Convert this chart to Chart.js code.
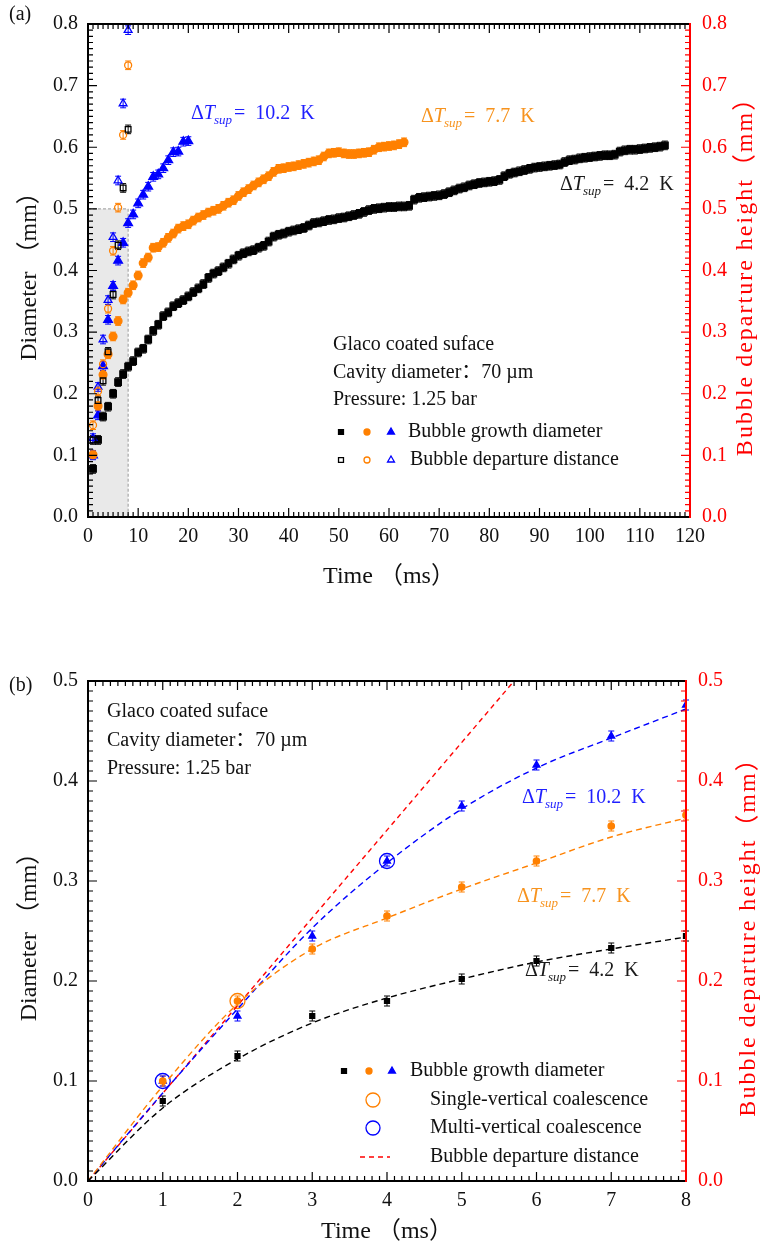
<!DOCTYPE html>
<html>
<head>
<meta charset="utf-8">
<script src="https://cdn.jsdelivr.net/npm/chart.js@4.4.1/dist/chart.umd.min.js"></script>
<style>
    html, body { margin: 0; padding: 0; background: #fff; }
    #wrap { position: relative; width: 766px; height: 1250px; }
    #cA { position: absolute; left: 0; top: 0; }
    #cB { position: absolute; left: 0; top: 600px; }
</style>
</head>
<body>
<div id="wrap">
    <canvas id="cA" width="766" height="600"></canvas>
    <canvas id="cB" width="766" height="650"></canvas>
</div>
<script>
    "use strict";

    /* ---------------- Data ---------------- */
    // (a) bubble growth diameter, one frame per ms starting at t = 1 ms
    const diamA42 = [0.078, 0.125, 0.163, 0.179, 0.200, 0.219, 0.232, 0.244, 0.253, 0.267,
        0.273, 0.288, 0.302, 0.312, 0.326, 0.332, 0.342, 0.347, 0.352, 0.358,
        0.365, 0.371, 0.378, 0.388, 0.395, 0.399, 0.405, 0.411, 0.418, 0.424,
        0.428, 0.431, 0.433, 0.437, 0.440, 0.447, 0.455, 0.458, 0.460, 0.463,
        0.465, 0.467, 0.469, 0.473, 0.477, 0.478, 0.480, 0.482, 0.483, 0.485,
        0.486, 0.488, 0.490, 0.492, 0.495, 0.498, 0.500, 0.501, 0.502, 0.503,
        0.503, 0.504, 0.504, 0.505, 0.515, 0.518, 0.519, 0.520, 0.521, 0.522,
        0.524, 0.527, 0.530, 0.533, 0.535, 0.538, 0.540, 0.542, 0.543, 0.544,
        0.545, 0.547, 0.553, 0.557, 0.559, 0.561, 0.563, 0.565, 0.567, 0.568,
        0.569, 0.570, 0.571, 0.572, 0.576, 0.579, 0.580, 0.582, 0.583, 0.584,
        0.585, 0.586, 0.587, 0.587, 0.588, 0.593, 0.595, 0.596, 0.596, 0.597,
        0.598, 0.599, 0.600, 0.601, 0.603];
    const diamA77 = [0.101, 0.180, 0.231, 0.264, 0.293, 0.318, 0.353, 0.364, 0.376, 0.392,
        0.412, 0.421, 0.437, 0.438, 0.445, 0.453, 0.460, 0.468, 0.472, 0.475,
        0.481, 0.486, 0.490, 0.494, 0.497, 0.500, 0.505, 0.510, 0.514, 0.521,
        0.527, 0.532, 0.538, 0.543, 0.548, 0.553, 0.560, 0.565, 0.566, 0.568,
        0.569, 0.571, 0.573, 0.575, 0.577, 0.579, 0.585, 0.590, 0.591, 0.592,
        0.590, 0.589, 0.589, 0.590, 0.591, 0.592, 0.596, 0.600, 0.601, 0.602,
        0.603, 0.605, 0.608];
    const diamA102 = [0.100, 0.165, 0.245, 0.320, 0.375, 0.416, 0.445, 0.477, 0.491, 0.509,
        0.523, 0.536, 0.552, 0.556, 0.566, 0.579, 0.592, 0.593, 0.609, 0.610];

    // (a) bubble departure distance
    const timeDep = [1, 2, 3, 4, 5, 6, 7, 8];
    const depA42 = [0.125, 0.189, 0.221, 0.268, 0.361, 0.441, 0.534, 0.629];
    const depA77 = [0.149, 0.204, 0.248, 0.338, 0.432, 0.502, 0.620, 0.733];
    const depA102 = [0.128, 0.211, 0.288, 0.352, 0.454, 0.546, 0.671, 0.790];

    // (b) first 8 ms
    const timeB = [1, 2, 3, 4, 5, 6, 7, 8];
    const diamB42 = [0.080, 0.125, 0.165, 0.180, 0.202, 0.220, 0.233, 0.245];
    const diamB77 = [0.100, 0.180, 0.232, 0.265, 0.294, 0.320, 0.355, 0.366];
    const diamB102 = [0.100, 0.165, 0.245, 0.320, 0.375, 0.416, 0.445, 0.476];

    // (b) dashed trend curves
    const fitT = [0, 1, 2, 3, 4, 5, 6, 7, 8];
    const fit42 = [0, 0.073, 0.122, 0.158, 0.183, 0.202, 0.219, 0.232, 0.244];
    const fit77 = [0, 0.095, 0.177, 0.232, 0.263, 0.292, 0.318, 0.344, 0.363];
    const fit102 = [0, 0.088, 0.172, 0.253, 0.318, 0.372, 0.413, 0.443, 0.472];
    const depLineT = [0, 5.7];
    const depLineD = [0, 0.5];

    // (b) coalescence events
    const singleT = [2];
    const singleD = [0.18];
    const multiT = [1, 4];
    const multiD = [0.10, 0.32];

    const superheat = ["4.2", "7.7", "10.2"];
    const shadeT = [0, 8];
    const shadeD = [0, 0.5];

    /* ---------------- Styles ---------------- */
    const SERIF = '"Liberation Serif", "Noto Sans CJK SC", serif';
    const C = { k: "#000000", o: "#ff8000", b: "#0000ff", r: "#ff0000" };
    const TXT = { k: "#1a1a1a", o: "#f7931e", b: "#1f1fff" };

    function pts(xs, ys) { return xs.map((x, i) => ({ x: x, y: ys[i] })); }
    function frames(vals) { return vals.map((v, i) => i + 1); } // 1 ms frame spacing

    function font(size, style) { return (style ? style + " " : "") + size + "px " + SERIF; }

    function drawDelta(ctx, x, y, color, val) {
        ctx.save();
        ctx.fillStyle = color;
        ctx.textBaseline = "alphabetic";
        ctx.textAlign = "left";
        ctx.font = font(20);
        ctx.fillText("Δ", x, y); x += ctx.measureText("Δ").width;
        ctx.font = font(20, "italic");
        ctx.fillText("T", x, y); x += ctx.measureText("T").width;
        ctx.font = font(13, "italic");
        ctx.fillText("sup", x - 1, y + 5); x += ctx.measureText("sup").width;
        ctx.font = font(20);
        ctx.fillText("=  " + val + "  K", x + 1, y);
        ctx.restore();
    }

    function marker(ctx, style, r, x, y, color, filled) {
        ctx.save();
        ctx.strokeStyle = color;
        ctx.fillStyle = filled ? color : "rgba(0,0,0,0)";
        ctx.lineWidth = 1.3;
        Chart.helpers.drawPoint(ctx, { pointStyle: style, radius: r, rotation: 0, borderWidth: 1.3 }, x, y);
        ctx.restore();
    }

    function text(ctx, s, x, y, color, align) {
        ctx.save();
        ctx.font = font(20);
        ctx.fillStyle = color || "#111";
        ctx.textAlign = align || "left";
        ctx.textBaseline = "middle";
        ctx.fillText(s, x, y);
        ctx.restore();
    }

    /* ---------------- Plugins ---------------- */
    const shade = {
        id: "shade",
        beforeDatasetsDraw(chart, args, o) {
            if (!o.on) return;
            const { ctx } = chart;
            const xs = chart.scales.x, ys = chart.scales.y;
            const x0 = xs.getPixelForValue(shadeT[0]), x1 = xs.getPixelForValue(shadeT[1]);
            const y0 = ys.getPixelForValue(shadeD[0]), y1 = ys.getPixelForValue(shadeD[1]);
            ctx.save();
            ctx.fillStyle = "#e9e9e9";
            ctx.fillRect(x0, y1, x1 - x0, y0 - y1);
            ctx.strokeStyle = "#9a9a9a";
            ctx.lineWidth = 1;
            ctx.setLineDash([3, 2]);
            ctx.beginPath();
            ctx.moveTo(x0, y1); ctx.lineTo(x1, y1); ctx.lineTo(x1, y0);
            ctx.stroke();
            ctx.restore();
        }
    };

    const errBars = {
        id: "errBars",
        beforeDatasetsDraw(chart) {
            const ctx = chart.ctx, ys = chart.scales.y;
            chart.data.datasets.forEach((ds, i) => {
                if (!ds.err) return;
                const meta = chart.getDatasetMeta(i);
                ctx.save();
                ctx.strokeStyle = ds.borderColor;
                ctx.lineWidth = 1;
                meta.data.forEach((pt, j) => {
                    const v = ds.data[j].y;
                    const t = ys.getPixelForValue(v + ds.err), b = ys.getPixelForValue(v - ds.err);
                    ctx.beginPath();
                    ctx.moveTo(pt.x, t); ctx.lineTo(pt.x, b);
                    ctx.moveTo(pt.x - 3, t); ctx.lineTo(pt.x + 3, t);
                    ctx.moveTo(pt.x - 3, b); ctx.lineTo(pt.x + 3, b);
                    ctx.stroke();
                });
                ctx.restore();
            });
        }
    };

    // Origin-style box: inward major/minor ticks, red right axis
    const frame = {
        id: "frame",
        afterDatasetsDraw(chart, args, o) {
            const { ctx, chartArea: a } = chart;
            const xs = chart.scales.x, ys = chart.scales.y;
            const each = (scale, minor, major, fn) => {
                const n = Math.round((scale.max - scale.min) / minor);
                const every = Math.round(major / minor);
                for (let i = 0; i <= n; i++) fn(scale.getPixelForValue(scale.min + i * minor), i % every === 0);
            };
            ctx.save();
            ctx.lineWidth = 1.2;
            ctx.strokeStyle = "#000";
            ctx.beginPath();
            each(xs, o.xMinor, o.xMajor, (p, big) => {
                const L = big ? 9 : 5;
                ctx.moveTo(p, a.bottom); ctx.lineTo(p, a.bottom - L);
                ctx.moveTo(p, a.top); ctx.lineTo(p, a.top + L);
            });
            each(ys, o.yMinor, o.yMajor, (p, big) => {
                ctx.moveTo(a.left, p); ctx.lineTo(a.left + (big ? 9 : 5), p);
            });
            ctx.stroke();
            ctx.strokeStyle = C.r;
            ctx.beginPath();
            each(ys, o.yMinor, o.yMajor, (p, big) => {
                ctx.moveTo(a.right, p); ctx.lineTo(a.right - (big ? 9 : 5), p);
            });
            ctx.stroke();

            ctx.lineWidth = 2;
            ctx.strokeStyle = "#000";
            ctx.beginPath();
            ctx.moveTo(a.right, a.top); ctx.lineTo(a.left, a.top); ctx.lineTo(a.left, a.bottom); ctx.lineTo(a.right, a.bottom);
            ctx.stroke();
            ctx.strokeStyle = C.r;
            ctx.beginPath();
            ctx.moveTo(a.right, a.top - 1); ctx.lineTo(a.right, a.bottom + 1);
            ctx.stroke();
            ctx.restore();
        },
        afterDraw(chart, args, o) {
            const { ctx, chartArea: a } = chart;
            const cy = (a.top + a.bottom) / 2;
            ctx.save();
            ctx.font = font(24);
            ctx.textAlign = "center";
            ctx.textBaseline = "middle";
            ctx.fillStyle = "#111";
            ctx.fillText("Time （ms）", (a.left + a.right) / 2, o.bottomY);
            ctx.translate(o.leftX, cy);
            ctx.rotate(-Math.PI / 2);
            ctx.fillText("Diameter （mm）", 0, 0);
            ctx.restore();
            ctx.save();
            ctx.font = font(24);
            ctx.letterSpacing = "2px";
            ctx.textAlign = "center";
            ctx.textBaseline = "middle";
            ctx.fillStyle = C.r;
            ctx.translate(o.rightX, cy);
            ctx.rotate(-Math.PI / 2);
            ctx.fillText("Bubble departure height（mm）", 0, 0);
            ctx.restore();
            text(ctx, o.tag, 9, o.tagY, "#111");
            if (o.notes) o.notes(ctx);
        }
    };

    function axes(xMax, xStep, yMax, bottomH, rightW) {
        const tickFont = { family: SERIF, size: 20 };
        return {
            x: {
                type: "linear", min: 0, max: xMax,
                afterFit: s => { s.height = bottomH; },
                grid: { display: false, drawTicks: false }, border: { display: false },
                ticks: { stepSize: xStep, padding: 8, color: "#111", font: tickFont, maxRotation: 0, autoSkip: false }
            },
            y: {
                min: 0, max: yMax,
                afterFit: s => { s.width = 88; },
                grid: { display: false, drawTicks: false }, border: { display: false },
                ticks: { stepSize: 0.1, padding: 10, color: "#111", font: tickFont, callback: v => v.toFixed(1) }
            },
            y2: {
                position: "right", min: 0, max: yMax,
                afterFit: s => { s.width = rightW; },
                grid: { display: false, drawTicks: false }, border: { display: false },
                ticks: { stepSize: 0.1, padding: 12, color: C.r, font: tickFont, callback: v => v.toFixed(1) }
            }
        };
    }

    function pointSet(xs, ys, color, style, r, filled, err) {
        return {
            data: pts(xs, ys),
            borderColor: color,
            backgroundColor: filled ? color : "rgba(255,255,255,0)",
            pointStyle: style,
            pointRadius: r,
            pointBorderWidth: 1.3,
            showLine: false,
            err: err
        };
    }

    /* ---------------- (a) full growth ---------------- */
    const ERR_A = 0.007;
    new Chart(document.getElementById("cA"), {
        type: "scatter",
        data: {
            datasets: [
                pointSet(timeDep, depA42, C.k, "rect", 4, false, ERR_A),
                pointSet(timeDep, depA77, C.o, "circle", 3.5, false, ERR_A),
                pointSet(timeDep, depA102, C.b, "triangle", 4.5, false, ERR_A),
                pointSet(frames(diamA42), diamA42, C.k, "rect", 4.6, true, ERR_A),
                pointSet(frames(diamA77), diamA77, C.o, "circle", 3.9, true, ERR_A),
                pointSet(frames(diamA102), diamA102, C.b, "triangle", 5, true, ERR_A)
            ]
        },
        options: {
            responsive: false, animation: false, events: [],
            layout: { padding: { top: 17, left: 0, right: 0, bottom: 0 } },
            scales: axes(120, 10, 0.8, 83, 76),
            plugins: {
                legend: { display: false }, tooltip: { enabled: false },
                shade: { on: true },
                frame: {
                    xMinor: 1, xMajor: 10, yMinor: 0.01, yMajor: 0.1,
                    bottomY: 577, leftX: 30, rightX: 746, tag: "(a)", tagY: 15,
                    notes: ctx => {
                        drawDelta(ctx, 191, 119, TXT.b, superheat[2]);
                        drawDelta(ctx, 421, 122, TXT.o, superheat[1]);
                        drawDelta(ctx, 560, 190, TXT.k, superheat[0]);
                        text(ctx, "Glaco coated suface", 333, 345);
                        text(ctx, "Cavity diameter：70 µm", 333, 373);
                        text(ctx, "Pressure: 1.25 bar", 333, 400);
                        marker(ctx, "rect", 3.5, 341, 432, C.k, true);
                        marker(ctx, "circle", 3, 367, 432, C.o, true);
                        marker(ctx, "triangle", 4, 391, 432, C.b, true);
                        text(ctx, "Bubble growth diameter", 408, 432);
                        marker(ctx, "rect", 3.5, 341, 460, C.k, false);
                        marker(ctx, "circle", 3, 367, 460, C.o, false);
                        marker(ctx, "triangle", 4, 391, 460, C.b, false);
                        text(ctx, "Bubble departure distance", 410, 460);
                    }
                }
            }
        },
        plugins: [shade, errBars, frame]
    });

    /* ---------------- (b) first 8 ms ---------------- */
    const ERR_B = 0.005;

    function dashed(xs, ys, color, dash) {
        return {
            data: pts(xs, ys),
            borderColor: color,
            borderWidth: 1.4,
            borderDash: dash,
            showLine: true,
            pointRadius: 0,
            cubicInterpolationMode: "monotone",
            fill: false
        };
    }

    new Chart(document.getElementById("cB"), {
        type: "scatter",
        data: {
            datasets: [
                dashed(fitT, fit42, C.k, [6, 4]),
                dashed(fitT, fit77, C.o, [6, 4]),
                dashed(fitT, fit102, C.b, [6, 4]),
                dashed(depLineT, depLineD, C.r, [5, 4]),
                pointSet(timeB, diamB42, C.k, "rect", 3.5, true, ERR_B),
                pointSet(timeB, diamB77, C.o, "circle", 3.2, true, ERR_B),
                pointSet(timeB, diamB102, C.b, "triangle", 4, true, ERR_B),
                pointSet(singleT, singleD, C.o, "circle", 7.5, false, 0),
                pointSet(multiT, multiD, C.b, "circle", 7.5, false, 0)
            ]
        },
        options: {
            responsive: false, animation: false, events: [],
            layout: { padding: { top: 81, left: 0, right: 0, bottom: 0 } },
            scales: axes(8, 1, 0.5, 69, 80),
            plugins: {
                legend: { display: false }, tooltip: { enabled: false },
                shade: { on: false },
                frame: {
                    xMinor: 0.1, xMajor: 1, yMinor: 0.01, yMajor: 0.1,
                    bottomY: 632, leftX: 30, rightX: 749, tag: "(b)", tagY: 86,
                    notes: ctx => {
                        text(ctx, "Glaco coated suface", 107, 112);
                        text(ctx, "Cavity diameter：70 µm", 107, 141);
                        text(ctx, "Pressure: 1.25 bar", 107, 169);
                        drawDelta(ctx, 522, 203, TXT.b, superheat[2]);
                        drawDelta(ctx, 517, 302, TXT.o, superheat[1]);
                        drawDelta(ctx, 525, 376, TXT.k, superheat[0]);
                        marker(ctx, "rect", 3.5, 344, 471, C.k, true);
                        marker(ctx, "circle", 3, 369, 471, C.o, true);
                        marker(ctx, "triangle", 4, 392, 471, C.b, true);
                        text(ctx, "Bubble growth diameter", 410, 471);
                        marker(ctx, "circle", 7, 373, 500, C.o, false);
                        text(ctx, "Single-vertical coalescence", 430, 500);
                        marker(ctx, "circle", 7, 373, 528, C.b, false);
                        text(ctx, "Multi-vertical coalescence", 430, 528);
                        ctx.save();
                        ctx.strokeStyle = C.r;
                        ctx.lineWidth = 1.4;
                        ctx.setLineDash([5, 4]);
                        ctx.beginPath();
                        ctx.moveTo(360, 557); ctx.lineTo(390, 557);
                        ctx.stroke();
                        ctx.restore();
                        text(ctx, "Bubble departure distance", 430, 557);
                    }
                }
            }
        },
        plugins: [shade, errBars, frame]
    });
</script>
</body>
</html>
